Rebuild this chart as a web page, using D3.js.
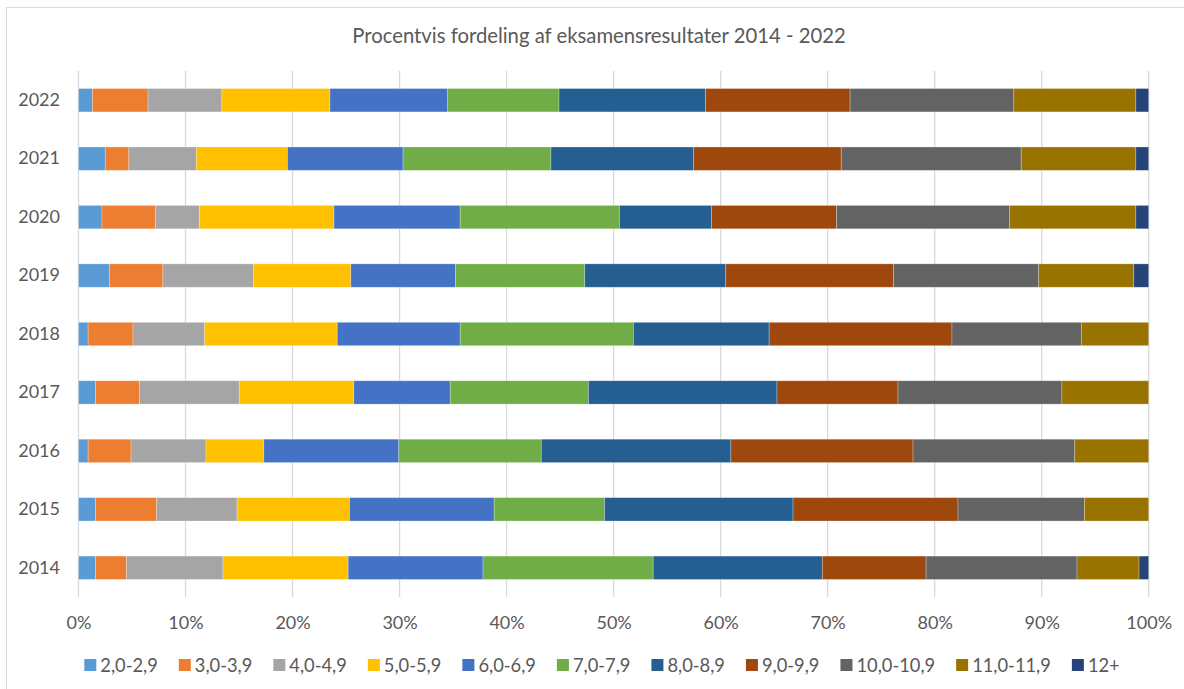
<!DOCTYPE html>
<html>
<head>
<meta charset="utf-8">
<script src="https://cdn.jsdelivr.net/npm/d3@7"></script>
<style>
  html, body { margin: 0; padding: 0; background: #fff; }
  svg { display: block; }
  text { font-family: Lato, "Open Sans", "Liberation Sans", sans-serif; fill: #595959; }
</style>
</head>
<body>
<svg id="chart" width="1184" height="689"></svg>
<script>
// ---- Data (percent of results per grade band, per year) ----
const years = ["2014", "2015", "2016", "2017", "2018", "2019", "2020", "2021", "2022"];
const seriesNames = ["2,0-2,9", "3,0-3,9", "4,0-4,9", "5,0-5,9", "6,0-6,9", "7,0-7,9", "8,0-8,9", "9,0-9,9", "10,0-10,9", "11,0-11,9", "12+"];
const s2_0  = [1.6, 1.6, 0.9, 1.6, 0.9, 2.9, 2.2, 2.5, 1.3];
const s3_0  = [2.9, 5.7, 4.0, 4.1, 4.2, 5.0, 5.0, 2.2, 5.2];
const s4_0  = [9.0, 7.5, 7.0, 9.3, 6.7, 8.5, 4.1, 6.3, 6.9];
const s5_0  = [11.7, 10.5, 5.4, 10.7, 12.4, 9.1, 12.6, 8.5, 10.1];
const s6_0  = [12.6, 13.5, 12.6, 9.0, 11.5, 9.8, 11.8, 10.8, 11.0];
const s7_0  = [15.9, 10.3, 13.3, 12.9, 16.2, 12.1, 14.9, 13.8, 10.4];
const s8_0  = [15.8, 17.6, 17.7, 17.6, 12.7, 13.2, 8.6, 13.3, 13.7];
const s9_0  = [9.7, 15.4, 17.0, 11.3, 17.1, 15.7, 11.7, 13.8, 13.5];
const s10_0 = [14.1, 11.8, 15.1, 15.3, 12.1, 13.6, 16.2, 16.8, 15.3];
const s11_0 = [5.8, 6.0, 6.9, 8.1, 6.3, 8.9, 11.8, 10.7, 11.4];
const s12   = [0.9, 0, 0, 0, 0, 1.4, 1.2, 1.2, 1.2];
const xTicks = [0, 0.1, 0.2, 0.3, 0.4, 0.5, 0.6, 0.7, 0.8, 0.9, 1];
const title = "Procentvis fordeling af eksamensresultater 2014 - 2022";

const colors = ["#5B9BD5", "#ED7D31", "#A5A5A5", "#FFC000", "#4472C4", "#70AD47",
                "#255E91", "#9E480E", "#636363", "#997300", "#264478"];

const seriesValues = [s2_0, s3_0, s4_0, s5_0, s6_0, s7_0, s8_0, s9_0, s10_0, s11_0, s12];
const table = years.map((y, i) => {
  const row = { year: y };
  seriesNames.forEach((n, k) => { row[n] = seriesValues[k][i]; });
  return row;
});

const svg = d3.select("#chart");

// chart border
svg.append("rect")
  .attr("x", 6.5).attr("y", 7.5)
  .attr("width", 1190).attr("height", 700)
  .attr("fill", "none").attr("stroke", "#D9D9D9").attr("stroke-width", 1);

const x = d3.scaleLinear().domain([0, 1]).range([78.5, 1148.7]);
const y = d3.scaleBand().domain(years.slice().reverse()).range([71, 597])
  .paddingInner(0.6).paddingOuter(0.3);
const color = d3.scaleOrdinal().domain(seriesNames).range(colors);

// title
svg.append("text")
  .attr("x", 599).attr("y", 43)
  .attr("text-anchor", "middle")
  .style("font-size", "20.3px")
  .text(title);

// gridlines
svg.append("g").selectAll("line").data(xTicks).join("line")
  .attr("x1", d => x(d)).attr("x2", d => x(d))
  .attr("y1", 71).attr("y2", 597)
  .attr("stroke", "#D9D9D9").attr("stroke-width", 1.3);

// stacked bars
const stack = d3.stack().keys(seriesNames).offset(d3.stackOffsetExpand);
const stacked = stack(table);

svg.append("g").selectAll("g").data(stacked).join("g")
  .attr("fill", d => color(d.key))
  .selectAll("rect").data(d => d).join("rect")
  .attr("x", d => x(d[0]))
  .attr("width", d => Math.max(0, x(d[1]) - x(d[0])))
  .attr("y", d => y(d.data.year))
  .attr("height", y.bandwidth())
  .attr("stroke", "#ffffff").attr("stroke-opacity", 0.35).attr("stroke-width", 0.75);

// y axis labels
const yAxis = d3.axisLeft(y).tickSize(0).tickPadding(0);
const yg = svg.append("g").attr("transform", "translate(60,0)").call(yAxis);
yg.select(".domain").remove();
yg.selectAll("text").style("font-size", "18px").attr("fill", "#595959").attr("font-family", null);

// x axis labels
const xAxis = d3.axisBottom(x).tickValues(xTicks).tickFormat(d3.format(".0%")).tickSize(0).tickPadding(0);
const xg = svg.append("g").attr("transform", "translate(0,616)").call(xAxis);
xg.select(".domain").remove();
xg.selectAll("text").style("font-size", "18px").attr("fill", "#595959").attr("font-family", null);

// legend
const legend = svg.append("g");
let cx = 0;
seriesNames.forEach((n, k) => {
  const g = legend.append("g").attr("transform", `translate(${cx},0)`);
  g.append("rect").attr("x", 0).attr("y", -6).attr("width", 12).attr("height", 12).attr("fill", colors[k]);
  const t = g.append("text").attr("x", 16).attr("y", 6.5).style("font-size", "18.3px").text(n);
  cx += 16 + t.node().getComputedTextLength() + 21;
});
const legendWidth = cx - 21;
legend.attr("transform", `translate(${602 - legendWidth / 2},665)`);
</script>
</body>
</html>
